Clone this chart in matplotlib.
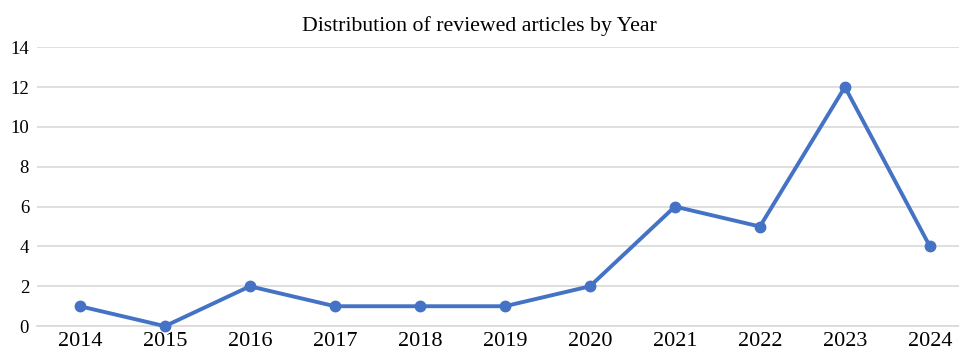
import numpy as np
from matplotlib import pyplot as plt

# data
years = ['2014', '2015', '2016', '2017', '2018', '2019', '2020', '2021', '2022', '2023', '2024']
articles = [1, 0, 2, 1, 1, 1, 2, 6, 5, 12, 4]
y_ticks = [0, 2, 4, 6, 8, 10, 12, 14]

plt.rcParams['font.family'] = ['Liberation Serif', 'DejaVu Serif']

fig = plt.figure(figsize=(9.59, 3.6), dpi=100)
ax = fig.add_axes([0.039, 0.094, 0.975, 0.775])

x = np.arange(len(years))
ax.plot(x, articles, color='#4472C4', linewidth=2.8, marker='o', markersize=7.5,
        zorder=3, clip_on=False)

ax.set_xlim(-0.5, len(years) - 0.5)
ax.set_ylim(0, 14)
ax.set_yticks(y_ticks)
ax.set_xticks(x)
ax.set_xticklabels(years)
ax.grid(axis='y', color='#D9D9D9', linewidth=1.2)
ax.set_axisbelow(True)
for side in ['top', 'right', 'left']:
    ax.spines[side].set_visible(False)
ax.spines['bottom'].set_color('#D9D9D9')
ax.spines['bottom'].set_linewidth(1.2)
ax.tick_params(axis='both', length=0, labelsize=13.5, pad=6)
ax.tick_params(axis='x', labelsize=16, pad=4)

fig.text(0.5, 0.955, 'Distribution of reviewed articles by Year', ha='center', va='top', fontsize=15.7)

fig.savefig('out.png', dpi=100)
